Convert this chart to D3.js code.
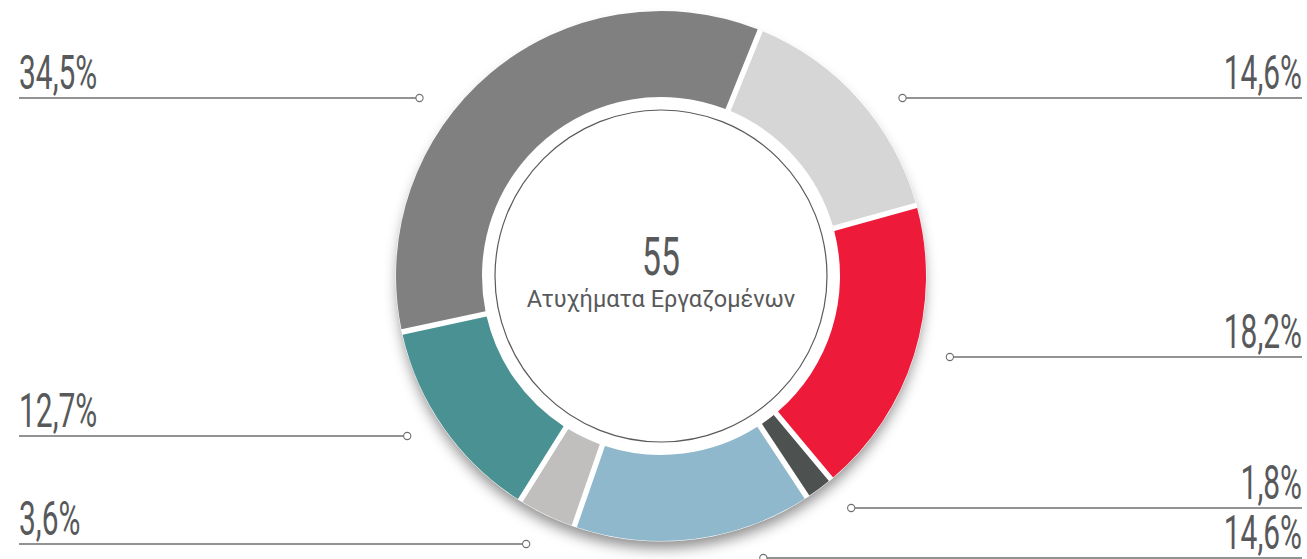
<!DOCTYPE html>
<html lang="el">
<head>
<meta charset="utf-8">
<script src="https://cdn.jsdelivr.net/npm/d3@7/dist/d3.min.js"></script>
<style>
  html, body { margin: 0; padding: 0; background: #ffffff; }
  svg { display: block; }
</style>
</head>
<body>
<svg id="chart" width="1307" height="559"></svg>
<script>
// Share of workplace accidents by category (percent of 55 accidents)
const categories = ["κατηγορία 1", "κατηγορία 2", "κατηγορία 3", "κατηγορία 4", "κατηγορία 5", "κατηγορία 6", "κατηγορία 7"];
const values = [14.6, 18.2, 1.8, 14.6, 3.6, 12.7, 34.5];
const valueLabels = ["14,6%", "18,2%", "1,8%", "14,6%", "3,6%", "12,7%", "34,5%"];
const colors = ["#d6d6d6", "#ee1a39", "#4d5150", "#8fb8cc", "#c0bfbe", "#4a9193", "#7f807f"];
const totalCount = "55";
const centerTitle = "Ατυχήματα Εργαζομένων";

// Vertical position of each leader line
const leaderY = [98, 357, 508, 558, 544, 436, 98];

const W = 1307, H = 559;
const cx = 661, cy = 276;
const outerR = 265, innerR = 179, ringR = 166, leaderR = 300;
const textColor = "#58595b";
const lineColor = "#6f6f6f";
const condensed = 0.63;

const svg = d3.select("#chart");
const defs = svg.append("defs");

const blur = defs.append("filter")
  .attr("id", "ringShadow")
  .attr("x", "-30%").attr("y", "-30%")
  .attr("width", "160%").attr("height", "160%");
blur.append("feGaussianBlur").attr("stdDeviation", 7);

const startA = 22 * Math.PI / 180;
const pie = d3.pie()
  .sort(null)
  .value(d => d)
  .startAngle(startA)
  .endAngle(startA + 2 * Math.PI);

// gaps are cut out of each slice symmetrically, with a constant width
const arc = d3.arc()
  .innerRadius(innerR)
  .outerRadius(outerR)
  .padAngle(0.055)
  .padRadius(100);

const arcs = pie(values);

const g = svg.append("g").attr("transform", `translate(${cx},${cy})`);

// soft shadow under the ring
g.append("circle")
  .attr("cx", 0).attr("cy", 9)
  .attr("r", outerR - 2)
  .attr("fill", "#000")
  .attr("fill-opacity", 0.45)
  .attr("filter", "url(#ringShadow)");

g.append("circle")
  .attr("r", outerR + 0.5)
  .attr("fill", "#ffffff");

// slices
g.selectAll("path.slice")
  .data(arcs)
  .join("path")
  .attr("class", "slice")
  .attr("d", arc)
  .attr("fill", (d, i) => colors[i]);

// thin inner ring
g.append("circle")
  .attr("r", ringR)
  .attr("fill", "none")
  .attr("stroke", "#5a5a5a")
  .attr("stroke-width", 1.2);

// centre text
g.append("text")
  .attr("transform", `translate(0,${275 - cy}) scale(${condensed},1)`)
  .attr("text-anchor", "middle")
  .attr("font-family", "Roboto, 'Noto Sans', sans-serif")
  .attr("font-size", 53.5)
  .attr("fill", textColor)
  .text(totalCount);

g.append("text")
  .attr("x", 0)
  .attr("y", 307 - cy)
  .attr("text-anchor", "middle")
  .attr("font-family", "Roboto, 'Noto Sans', sans-serif")
  .attr("font-size", 23.5)
  .attr("fill", textColor)
  .text(centerTitle);

// leader lines and value labels
const leftX = 19, rightX = 1302;
const leaders = svg.append("g");

arcs.forEach((d, i) => {
  const mid = (d.startAngle + d.endAngle) / 2;
  const right = Math.sin(mid) > 0;
  const y = leaderY[i];
  const dy = y - cy;
  const dx = Math.sqrt(Math.max(0, leaderR * leaderR - dy * dy));
  const px = right ? cx + dx : cx - dx;
  const endX = right ? rightX : leftX;

  leaders.append("line")
    .attr("x1", right ? px + 3.5 : px - 3.5)
    .attr("x2", endX)
    .attr("y1", y).attr("y2", y)
    .attr("stroke", lineColor)
    .attr("stroke-width", 1.3);

  leaders.append("circle")
    .attr("cx", px).attr("cy", y)
    .attr("r", 3.6)
    .attr("fill", "#ffffff")
    .attr("stroke", lineColor)
    .attr("stroke-width", 1.1);

  leaders.append("text")
    .attr("transform", `translate(${endX},${y - 9.5}) scale(${condensed},1)`)
    .attr("text-anchor", right ? "end" : "start")
    .attr("font-family", "Roboto, 'Noto Sans', sans-serif")
    .attr("font-size", 47.5)
    .attr("fill", textColor)
    .text(valueLabels[i]);
});
</script>
</body>
</html>
